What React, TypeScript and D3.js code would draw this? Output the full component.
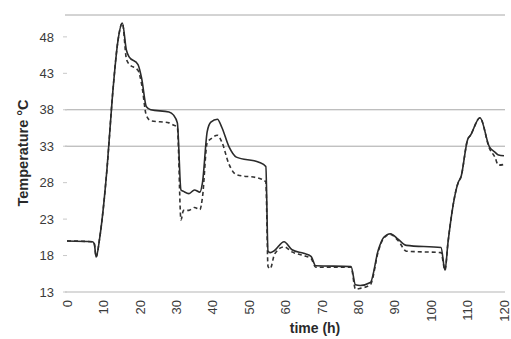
import * as d3 from "d3";

// hours of the run
const hours = [
  0, 7, 7.5, 8, 9, 11, 12.5, 14, 15.2, 16.3, 17, 19.5, 20.5, 21.8, 23, 28, 29.2,
  30.3, 31.3, 32, 33.5, 35, 36.5, 37.2, 38.5, 39.5, 41.3, 42.5, 44.5, 46.5, 52.7,
  54.6, 55.2, 55.8, 57, 59.6, 61.8, 65, 67, 68.3, 78, 79.2, 80.5, 83.3, 85.5, 87,
  88.8, 91, 93.2, 102.7, 103.8, 104.6, 107.4, 108.2, 110, 110.8, 113.4, 116, 117.5,
  118.5, 120,
];

// solid series
const measured = [
  20, 19.9, 19.6, 17.8, 20.5, 30, 40, 47.5, 49.9, 46.2, 45.3, 44.2, 42.3, 38.4, 38,
  37.7, 37.3, 36.2, 27, 26.8, 26.5, 27, 26.7, 28, 35, 36.3, 36.7, 35.6, 32.9, 31.5,
  30.8, 30.2, 18.6, 18.4, 18.7, 19.9, 18.8, 18.3, 17.9, 16.6, 16.5, 14.0, 13.9,
  14.3, 18.8, 20.5, 21, 20.2, 19.4, 19.1, 16, 19.7, 28, 28.8, 33.9, 34.5, 36.9,
  32.9, 32.2, 31.8, 31.7,
];

// dashed series
const simulated = [
  20, 19.9, 19.6, 17.8, 20.5, 30, 40, 47.5, 49.9, 45.0, 44.3, 43.4, 41.5, 37.2,
  36.5, 36.2, 35.9, 35.6, 22.9, 24.2, 24.2, 24.6, 24.3, 26, 33.5, 34.0, 34.5, 33.6,
  30.5, 29.1, 28.6, 28.1, 16.5, 16.2, 18.2, 19.2, 18.5, 18.0, 17.6, 16.4, 16.4,
  13.4, 13.5, 14.0, 18.6, 20.4, 20.9, 20.0, 18.6, 18.4, 16, 19.7, 28, 28.8, 33.9,
  34.5, 36.9, 32.7, 31.5, 30.4, 30.5,
];

const yTicks = [13, 18, 23, 28, 33, 38, 43, 48];
const xTicks = [0, 10, 20, 30, 40, 50, 60, 70, 80, 90, 100, 110, 120];
const gridValues = [51, 38, 33];

const W = 511;
const H = 339;
const font = "Arial, 'Liberation Sans', sans-serif";

export default function App() {
  const x = d3.scaleLinear().domain([0, 120]).range([67, 504]);
  const y = d3.scaleLinear().domain([13, 51]).range([292, 15]);

  const line = d3
    .line<number>()
    .x((_, i) => x(hours[i]))
    .y((d) => y(d))
    .curve(d3.curveMonotoneX);

  return (
    <svg
      width={W}
      height={H}
      style={{ position: "absolute", left: 0, top: 0, background: "#fff" }}
    >
      {/* grid */}
      {gridValues.map((v) => (
        <line
          key={v}
          x1={65}
          x2={505}
          y1={y(v)}
          y2={y(v)}
          stroke="#a8a8a8"
          strokeWidth={1}
        />
      ))}
      <line x1={65} x2={505} y1={y(13)} y2={y(13)} stroke="#b5b5b5" />

      {/* y axis */}
      {yTicks.map((t) => (
        <g key={t}>
          <line x1={63} x2={67} y1={y(t)} y2={y(t)} stroke="#c8c8c8" />
          <text
            x={54}
            y={y(t)}
            dy="0.36em"
            textAnchor="end"
            fontSize={13}
            fontFamily={font}
            fill="#3a3a3a"
          >
            {t}
          </text>
        </g>
      ))}
      <text
        transform={`translate(23,153) rotate(-90)`}
        textAnchor="middle"
        dy="0.35em"
        fontSize={14.5}
        fontWeight="bold"
        fontFamily={font}
        fill="#2a2a2a"
      >
        Temperature °C
      </text>

      {/* x axis */}
      {xTicks.map((t) => (
        <text
          key={t}
          transform={`translate(${x(t)},300) rotate(-90)`}
          textAnchor="end"
          dy="0.36em"
          fontSize={13}
          fontFamily={font}
          fill="#3a3a3a"
        >
          {t}
        </text>
      ))}
      <text
        x={315}
        y={333}
        textAnchor="middle"
        fontSize={14}
        fontWeight="bold"
        fontFamily={font}
        fill="#2a2a2a"
      >
        time (h)
      </text>

      {/* series */}
      <path
        d={line(simulated) ?? ""}
        fill="none"
        stroke="#333"
        strokeWidth={1.6}
        strokeDasharray="4,3"
      />
      <path
        d={line(measured) ?? ""}
        fill="none"
        stroke="#2b2b2b"
        strokeWidth={1.6}
      />
    </svg>
  );
}
